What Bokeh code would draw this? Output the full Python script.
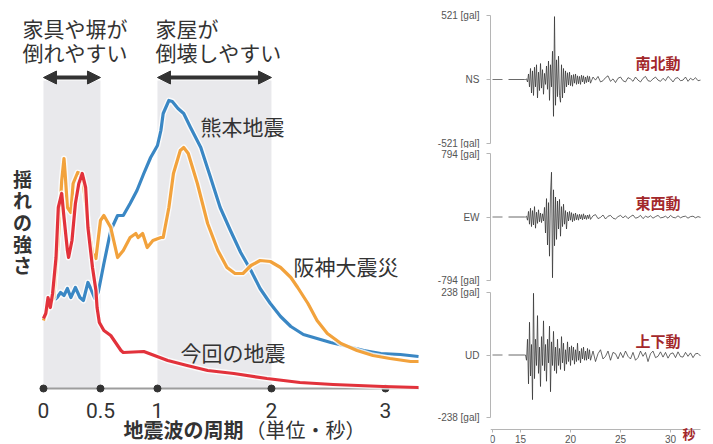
import numpy as np
from bokeh.plotting import figure
from bokeh.layouts import row, column
from bokeh.models import Range1d, FixedTicker, Label, Arrow, NormalHead
from bokeh.embed import file_html
from bokeh.resources import INLINE

# ---------------- left panel: response spectra ----------------
# period (s) and relative shaking strength
kumamoto_period = [0.10,0.12,0.15,0.18,0.21,0.24,0.28,0.32,0.35,0.39,0.41,0.45,0.48,0.53,0.59,0.65,0.70,0.76,0.82,0.88,
                   0.94,1.00,1.03,1.05,1.10,1.13,1.18,1.23,1.29,1.38,1.46,1.55,1.64,1.73,1.82,1.90,1.99,2.08,2.17,2.28,
                   2.37,2.52,2.67,2.81,2.96,3.13,3.29]
kumamoto_strength = [8.9,9.1,9.6,9.3,10.0,9.1,10.1,9.1,8.8,10.6,10.1,9.0,9.6,12.5,15.8,17.3,17.3,18.5,19.8,21.5,
                     23.1,24.3,25.8,27.5,28.8,28.7,28.0,27.5,26.1,24.1,21.3,18.1,15.8,13.6,11.8,10.0,8.5,7.2,6.2,5.4,
                     5.1,4.6,4.2,3.8,3.5,3.4,3.2]

hanshin_period = [0.00,0.04,0.09,0.13,0.16,0.18,0.19,0.21,0.24,0.26,0.30,0.32,0.35,0.39,0.43,0.46,0.50,0.53,0.59,0.65,
                  0.70,0.76,0.81,0.83,0.87,0.91,0.96,1.03,1.05,1.10,1.14,1.20,1.23,1.27,1.35,1.44,1.53,1.61,1.68,1.75,
                  1.82,1.90,1.99,2.08,2.17,2.23,2.32,2.40,2.49,2.61,2.75,2.89,3.04,3.22,3.29]
hanshin_strength = [6.8,8.1,9.1,14.8,20.8,23.0,21.5,18.1,17.6,20.5,21.6,21.5,20.5,16.5,13.5,13.0,16.8,17.3,16.1,13.1,
                    13.8,15.1,15.5,15.1,15.5,14.1,14.8,15.1,15.1,18.1,21.5,23.8,24.1,23.5,20.5,16.5,13.8,12.1,11.5,11.5,
                    12.3,12.8,12.7,12.1,11.1,10.1,8.5,6.8,5.5,4.5,3.8,3.3,3.0,2.7,2.7]

current_period = [0.00,0.02,0.04,0.06,0.08,0.11,0.13,0.16,0.18,0.21,0.22,0.25,0.28,0.31,0.34,0.37,0.39,0.43,0.46,0.47,
                  0.49,0.53,0.59,0.68,0.70,0.88,1.09,1.26,1.44,1.67,1.96,2.25,2.54,2.98,3.29]
current_strength = [7.0,7.5,9.1,8.1,9.5,13.1,18.1,19.5,17.1,13.8,13.1,14.8,18.5,20.5,21.5,20.1,16.1,12.1,9.8,8.1,
                    6.6,5.8,5.3,3.8,3.6,3.7,2.8,2.3,1.8,1.5,1.0,0.6,0.4,0.2,0.1]

period_ticks = [0, 0.5, 1, 2, 3]
period_tick_labels = ["0", "0.5", "1", "2", "3"]
band_start = [0.0, 1.0]
band_end = [0.5, 2.0]
band_texts = [("家具や塀が", "倒れやすい"), ("家屋が", "倒壊しやすい")]
series_names = ["熊本地震", "阪神大震災", "今回の地震"]

# ---------------- right panel: acceleration records (gal) ----------------
ns_active = [0,5,-20,45,-60,90,-110,70,-130,100,-60,120,-150,60,-90,130,-70,80,-120,50,
             -40,110,-80,150,-170,120,-60,230,-300,512,-210,160,-140,190,-130,-185,120,-150,90,-110,
             70,-60,55,-45,60,-50,35,-55,40,-30,45,-40,30,-35,25,-40,35,-20,30,-35,
             20,-25,30,-20,25]
ns_tail = [-30,20,-5,25,-20,-10,15,30,-15,5,-25,10,20,-10,-20,15,5,-15,20,-5,
           -20,10,25,-10,-15,5,20,-5,-15,10,-10,25,5,-20,10,15,-10,-5,20,-15,
           10,-5,15,-10,-5]
ew_active = [0,10,-40,70,-90,110,-120,80,-100,130,-140,60,-80,90,-60,50,-70,40,-50,120,
             -200,230,-350,180,-490,300,560,-760,340,-360,250,-280,200,-150,220,-240,130,-120,160,-90,
             80,-150,60,-50,70,-40,55,-60,40,-45,50,-35,30,-40,35,-25,30,-35,40,-25,
             20,-30,25,-20,30]
ew_tail = [-30,15,30,-20,-5,25,-25,10,20,-15,-25,5,20,-10,15,-20,5,25,-15,-5,
           20,-20,10,-5,15,-15,5,20,-10,-5,10,-15,20,-5,-10,15,-10,5,10,-15,
           5,10,-10,5,-5]
ud_active = [0,-20,60,-110,125,-80,40,-170,235,-90,
             60,-40,150,-70,30,-120,70,-40,130,-60,
             40,-100,60,-30,110,-140,50,-40,90,-60,
             30,-70,60,-40,25,-55,70,-30,45,-60,
             20,-35,50,-25,30,-40,35,-20,30,-35,
             20,-25,45,-20,15,-30,25,-15,30,-20,
             15,-20,25,-15,20]
ud_tail = [-20,15,-25,5,20,-15,-5,15,-20,10,5,-15,10,-10,15,-5,-15,10,-20,-10,
           15,-5,10,-25,5,15,-10,-5,12,-8,10,-12,5,8,-10,12,-6,-8,10,-5,
           8,-10,5,6,-4]
components = ["NS", "EW", "UD"]
peak_gal = [521, 794, 238]
component_names = ["南北動", "東西動", "上下動"]
time_ticks = [12.2, 15, 20, 25, 30]
time_tick_labels = ["0", "15", "20", "25", "30"]

JP = "Noto Sans CJK JP"
INK = "#333333"

# ======================= left figure =======================
left = figure(width=430, height=444, x_range=Range1d(-0.377, 3.395), y_range=Range1d(-5.6, 38.8),
              output_backend="svg", toolbar_location=None,
              min_border_left=0, min_border_right=0, min_border_top=0, min_border_bottom=0)
left.yaxis.visible = False
left.xgrid.visible = False
left.ygrid.visible = False
left.outline_line_color = None

left.quad(left=band_start, right=band_end, bottom=0, top=30.8, fill_color="#e9e9ec", line_color=None)

for xs, xe in zip(band_start, band_end):
    left.add_layout(Arrow(x_start=xs, y_start=31.1, x_end=xe, y_end=31.1, line_width=4, line_color=INK,
                          start=NormalHead(size=13, fill_color=INK, line_color=INK),
                          end=NormalHead(size=13, fill_color=INK, line_color=INK)))

# axis line with dots
left.line(x=[period_ticks[0], kumamoto_period[-1]], y=[0, 0], line_color="#9d9d9d", line_width=2)
left.scatter(x=period_ticks, y=[0] * len(period_ticks), size=7, color=INK)

series = [(kumamoto_period, kumamoto_strength, "#3a87c4"),
          (hanshin_period, hanshin_strength, "#f2a23c"),
          (current_period, current_strength, "#e2323b")]
for xs, ys, c in series:
    left.line(xs, ys, line_color="white", line_width=6, line_alpha=0.8, line_join="round")
    left.line(xs, ys, line_color=c, line_width=3.2, line_join="round")

xa = left.xaxis[0]
xa.fixed_location = 0
xa.ticker = FixedTicker(ticks=period_ticks)
xa.major_label_overrides = dict(zip(period_ticks, period_tick_labels))
xa.axis_line_color = None
xa.major_tick_line_color = None
xa.minor_tick_line_color = None
xa.major_label_standoff = 8
xa.major_label_text_font = "Roboto"
xa.major_label_text_font_size = "21px"
xa.major_label_text_color = INK

def lab(fig, x, y, text, size="21px", bold=False, color=INK, align="left", font=JP):
    fig.add_layout(Label(x=x, y=y, text=text, text_font=font, text_font_size=size,
                         text_font_style="bold" if bold else "normal", text_color=color,
                         text_align=align, text_baseline="middle"))

lab(left, -0.184, 36.1, band_texts[0][0])
lab(left, -0.184, 33.7, band_texts[0][1])
lab(left, 0.982, 36.1, band_texts[1][0])
lab(left, 0.982, 33.7, band_texts[1][1])
lab(left, 1.377, 26.3, series_names[0])
lab(left, 2.193, 12.3, series_names[1])
lab(left, 1.202, 3.7, series_names[2])

ylab = Label(x=-0.184, y=16.7, text="揺\nれ\nの\n強\nさ", text_font=JP, text_font_size="19px",
             text_font_style="bold", text_color=INK, text_align="center", text_baseline="middle",
             text_line_height=0.8)
left.add_layout(ylab)
lab(left, 0.702, -4.05, "地震波の周期", size="20px", bold=True)
lab(left, 1.772, -4.05, "（単位・秒）", size="20px")

# ======================= right figures =======================
x_time = Range1d(12.0, 34.3)
dash_t = [time_ticks[0], 13.2]

def trace(active, tail):
    t = np.concatenate([[13.8, 15.4], 15.5 + 0.1 * np.arange(len(active)), 22.0 + 0.25 * np.arange(len(tail))])
    v = [0, 0] + list(active) + list(tail)
    return t, v

def trace_fig(height, b_top, b_bottom, y_lo, amp, comp, active, tail, name, name_y, axis_y=None):
    f = figure(width=283, height=height, x_range=x_time, y_range=Range1d(y_lo, amp),
               output_backend="svg", toolbar_location=None,
               min_border_left=60, min_border_right=0, min_border_top=b_top, min_border_bottom=b_bottom)
    f.xgrid.visible = False
    f.ygrid.visible = False
    f.outline_line_color = None
    ya = f.yaxis[0]
    ya.ticker = FixedTicker(ticks=[-amp, 0, amp])
    ya.major_label_overrides = {amp: f"{amp} [gal]", 0: comp, -amp: f"-{amp} [gal]"}
    ya.bounds = (-amp, amp)
    ya.axis_line_color = "#b5b5b5"
    ya.major_tick_line_color = "#b5b5b5"
    ya.major_tick_out = 4
    ya.major_tick_in = 0
    ya.minor_tick_line_color = None
    ya.major_label_standoff = 7
    ya.major_label_text_font = "Liberation Sans"
    ya.major_label_text_font_size = "10px"
    ya.major_label_text_color = "#555555"
    if axis_y is not None:
        xa = f.xaxis[0]
        xa.fixed_location = axis_y
        xa.ticker = FixedTicker(ticks=time_ticks)
        xa.major_label_overrides = dict(zip(time_ticks, time_tick_labels))
        xa.bounds = (12.0, 33.0)
        xa.axis_line_color = "#b5b5b5"
        xa.major_tick_line_color = "#b5b5b5"
        xa.major_tick_out = 3
        xa.major_tick_in = 0
        xa.minor_tick_line_color = None
        xa.major_label_standoff = 2
        xa.major_label_text_font = "Liberation Sans"
        xa.major_label_text_font_size = "10px"
        xa.major_label_text_color = "#555555"
    else:
        f.xaxis.visible = False
    t, v = trace(active, tail)
    f.line(dash_t, [0, 0], line_color="#777777", line_width=1)
    f.line(t, v, line_color="#2e2e2e", line_width=0.8, line_alpha=0.9)
    f.add_layout(Label(x=26.5, y=name_y, text=name, text_font=JP, text_font_size="15px",
                       text_font_style="bold", text_color="#a3282b", text_baseline="middle"))
    return f

ns = trace_fig(148, 15, 5, -peak_gal[0], peak_gal[0], components[0], ns_active, ns_tail, component_names[0], 136)
ew = trace_fig(138, 5, 6, -peak_gal[1], peak_gal[1], components[1], ew_active, ew_tail, component_names[1], 183)
ud = trace_fig(158, 6, 0, -340.8, peak_gal[2], components[2], ud_active, ud_tail, component_names[2], 57,
               axis_y=-283.7)
ud.add_layout(Label(x=31.2, y=-299.0, text="秒", text_font=JP, text_font_size="13px", text_font_style="bold",
                    text_color="#a3282b", text_baseline="middle"))

layout = row(left, column(ns, ew, ud))
open("out.html", "w").write(file_html(layout, INLINE))
